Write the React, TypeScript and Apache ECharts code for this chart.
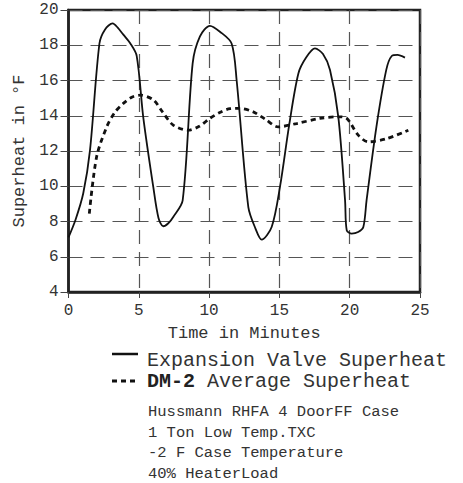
import React, { useEffect, useRef } from "react";
import * as echarts from "echarts";

const valveT = [0, 0.5, 1.05, 1.53, 2.2, 2.6, 3.14, 3.5, 3.9, 4.4, 4.85, 5.32, 6.03, 6.4, 6.74, 7.1, 7.45, 8.12, 8.83, 9.35, 10.06, 10.77, 11.6, 11.96, 12.79, 13.3, 13.74, 14.45, 15.04, 15.7, 16.35, 16.9, 17.53, 18.1, 18.6, 19.19, 19.67, 19.79, 20.14, 20.6, 20.97, 21.2, 21.9, 22.6, 22.99, 23.4, 23.93];
const valveV = [7.1, 8.1, 9.6, 12.05, 18.1, 18.9, 19.24, 19.0, 18.6, 18.1, 17.4, 13.9, 9.96, 8.2, 7.73, 7.9, 8.26, 9.2, 16.97, 18.5, 19.1, 18.77, 18.1, 16.0, 8.82, 7.6, 6.97, 7.69, 9.96, 13.5, 16.4, 17.3, 17.82, 17.5, 16.6, 13.94, 9.2, 7.5, 7.31, 7.4, 7.69, 9.2, 13.37, 16.6, 17.39, 17.45, 17.3];

const avgT = [1.48, 2.0, 2.72, 3.3, 3.9, 4.5, 5.1, 6.03, 6.7, 7.45, 8.52, 9.3, 10.06, 10.8, 11.49, 12.2, 13.14, 14.0, 14.92, 16.23, 17.89, 19.19, 19.79, 20.61, 21.32, 22.63, 24.17];
const avgV = [8.45, 11.67, 13.37, 14.2, 14.7, 15.05, 15.17, 14.9, 14.2, 13.47, 13.18, 13.4, 13.85, 14.2, 14.4, 14.42, 14.22, 13.8, 13.37, 13.56, 13.85, 13.94, 13.85, 12.9, 12.52, 12.7, 13.18];

const xTicks = [0, 5, 10, 15, 20, 25];
const yTicks = [4, 6, 8, 10, 12, 14, 16, 18, 20];

const legendNames = ["Expansion Valve Superheat", "Average Superheat"];
const legendBold = "DM-2";
const notes = ["Hussmann RHFA 4 DoorFF Case", "1 Ton Low Temp.TXC", "-2 F Case Temperature", "40% HeaterLoad"];

const FONT = "'Courier New', 'Liberation Mono', monospace";
const TXT = "#333";

export default function App() {
  const ref = useRef<HTMLDivElement>(null);
  useEffect(() => {
    if (!ref.current) return;
    const chart = echarts.init(ref.current, undefined, { renderer: "svg" });
    const valve = valveT.map((t, i) => [t, valveV[i]]);
    const avg = avgT.map((t, i) => [t, avgV[i]]);
    chart.setOption({
      animation: false,
      grid: {
        left: 68.5,
        right: 43,
        top: 10,
        bottom: 191,
        show: true,
        borderColor: "#222",
        borderWidth: 2.5,
        backgroundColor: "transparent",
      },
      xAxis: {
        type: "value",
        min: xTicks[0],
        max: xTicks[xTicks.length - 1],
        interval: 5,
        name: "Time in Minutes",
        nameLocation: "middle",
        nameGap: 33,
        nameTextStyle: { fontFamily: FONT, fontSize: 17, color: TXT },
        axisLine: { show: true, lineStyle: { color: "#222", width: 2.5 } },
        axisTick: { show: true, length: 6, lineStyle: { color: "#444" } },
        axisLabel: { fontFamily: FONT, fontSize: 16, color: TXT, margin: 11 },
        splitLine: { show: true, lineStyle: { color: "#555", type: [14, 8], width: 1.2 } },
      },
      yAxis: {
        type: "value",
        min: yTicks[0],
        max: yTicks[yTicks.length - 1],
        interval: 2,
        name: "Superheat in °F",
        nameLocation: "middle",
        nameGap: 35,
        nameRotate: 90,
        nameTextStyle: { fontFamily: FONT, fontSize: 17, color: TXT },
        axisLine: { show: true, lineStyle: { color: "#222", width: 2.5 } },
        axisTick: { show: true, length: 8, lineStyle: { color: "#444" } },
        axisLabel: { fontFamily: FONT, fontSize: 16, color: TXT, margin: 10 },
        splitLine: { show: true, lineStyle: { color: "#555", type: [14, 8], width: 1.2 } },
      },
      series: [
        {
          name: legendNames[0],
          type: "line",
          data: valve,
          smooth: 0.3,
          showSymbol: false,
          lineStyle: { color: "#111", width: 1.8 },
        },
        {
          name: legendNames[1],
          type: "line",
          data: avg,
          smooth: 0.3,
          showSymbol: false,
          lineStyle: { color: "#111", width: 2.8, type: [5, 4] },
        },
      ],
      graphic: [
        { type: "line", shape: { x1: 112, y1: 354, x2: 138, y2: 354 }, style: { stroke: "#111", lineWidth: 2.5 } },
        {
          type: "text",
          left: 147,
          top: 350,
          style: { text: legendNames[0], fontFamily: FONT, fontSize: 20, fill: TXT },
        },
        { type: "line", shape: { x1: 112, y1: 381, x2: 138, y2: 381 }, style: { stroke: "#111", lineWidth: 2.8, lineDash: [5, 4] } },
        {
          type: "text",
          left: 147,
          top: 371,
          style: {
            text: "{b|" + legendBold + "} " + legendNames[1],
            fontFamily: FONT,
            fontSize: 20,
            fill: TXT,
            rich: { b: { fontFamily: FONT, fontSize: 20, fontWeight: "bold", fill: "#222" } },
          },
        },
        ...notes.map((n, i) => ({
          type: "text",
          left: 148,
          top: 404 + i * 20.5,
          style: { text: n, fontFamily: FONT, fontSize: 15.5, fill: TXT },
        })),
      ],
    });
    return () => chart.dispose();
  }, []);
  return <div ref={ref} style={{ position: "absolute", left: 0, top: 0, width: 463, height: 483 }} />;
}
